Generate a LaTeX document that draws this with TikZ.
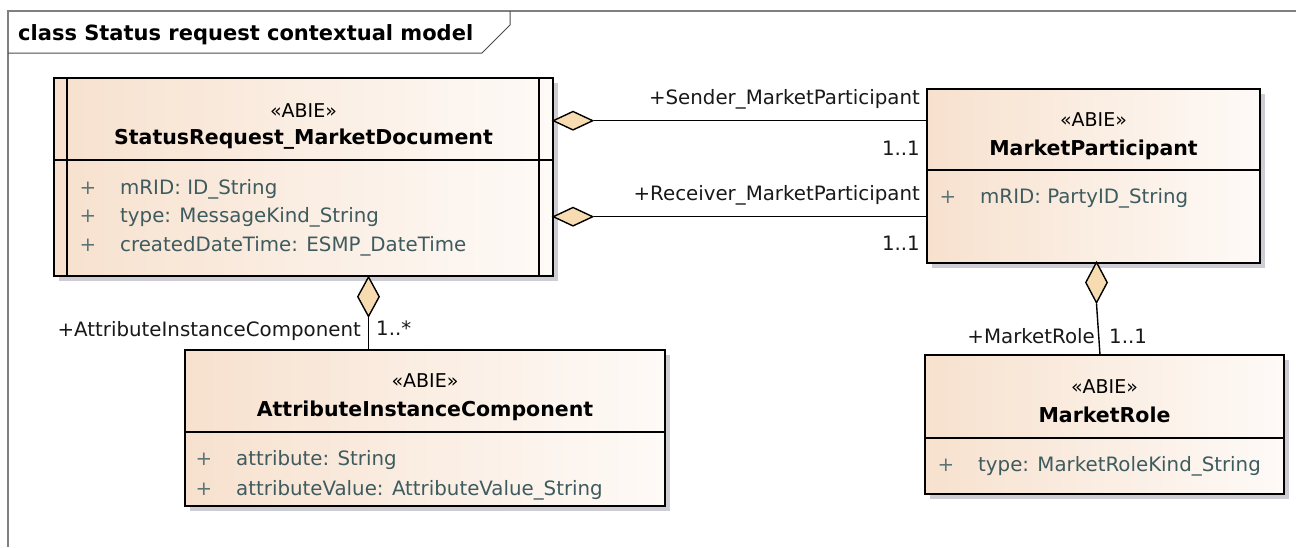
\documentclass[tikz,border=0pt]{standalone}
\usepackage{fontspec}
\setmainfont{DejaVu Sans}
\usetikzlibrary{shapes.geometric,shadows,positioning}

\definecolor{boxleft}{HTML}{F7E1CE}
\definecolor{boxright}{HTML}{FEFAF7}
\definecolor{aggfill}{HTML}{F6DCB0}
\definecolor{attrtext}{HTML}{3E5B5F}
\definecolor{framegray}{HTML}{808080}
\definecolor{shadowgray}{HTML}{CDCDD3}

\begin{document}
\begin{tikzpicture}[x=1pt, y=-1pt,
    classbox/.style={draw, line width=1.6pt, inner sep=0pt, left color=boxleft, right color=boxright,
        drop shadow={shadow xshift=5pt, shadow yshift=-5pt, fill=shadowgray, opacity=1}},
    stereo/.style={inner sep=0pt, text height=14pt, text depth=0pt, font=\fontsize{19}{22}\selectfont},
    classname/.style={inner sep=0pt, text height=15pt, text depth=0pt, font=\fontsize{20.5}{24}\selectfont\bfseries},
    attr/.style={anchor=west, inner sep=0pt, text height=14pt, text depth=0pt, text=attrtext, font=\fontsize{19.8}{23}\selectfont},
    vis/.style={inner sep=0pt, text height=14pt, text depth=0pt, text=attrtext!85, font=\fontsize{19.8}{23}\selectfont},
    rolelabel/.style={inner sep=0pt, text height=14pt, text depth=0pt, text=black!90, font=\fontsize{19.8}{23}\selectfont},
    aggh/.style={diamond, draw, line width=1.4pt, fill=aggfill, inner sep=0pt, minimum width=40pt, minimum height=19pt},
    aggv/.style={diamond, draw, line width=1.4pt, fill=aggfill, inner sep=0pt, minimum width=22pt, minimum height=40pt},
    assoc/.style={line width=1.4pt}]

    % Page and frame
    \fill[white] (0,0) rectangle (1296,547);
    \useasboundingbox (0,0) rectangle (1296,547);
    \draw[framegray, line width=1.6pt] (8,547) -- (8,11) -- (1296,11);
    \draw[black!70, line width=1pt] (8,53) -- (482,53) -- (510,25) -- (510,11);
    \node[anchor=west, inner sep=0pt, text height=15pt, text depth=0pt, font=\fontsize{21}{25}\selectfont\bfseries] (title) at (18,33) {class Status request contextual model};

    % Draw the class boxes
    \node[classbox, minimum width=499pt, minimum height=198pt] (srmd) at (303.5,177) {};
    \node[classbox, minimum width=333pt, minimum height=174pt] (mp) at (1093.5,176) {};
    \node[classbox, minimum width=480pt, minimum height=156pt] (aic) at (425,428) {};
    \node[classbox, minimum width=359pt, minimum height=139pt] (mr) at (1104.5,424.5) {};

    % Compartment lines
    \draw[line width=1.6pt] ([xshift=14pt]srmd.north west) -- ([xshift=14pt]srmd.south west);
    \draw[line width=1.6pt] ([xshift=-15pt]srmd.north east) -- ([xshift=-15pt]srmd.south east);
    \draw[line width=1.4pt] (srmd.west |- 0,160) -- (srmd.east |- 0,160);
    \draw[line width=1.4pt] (mp.west |- 0,170) -- (mp.east |- 0,170);
    \draw[line width=1.4pt] (aic.west |- 0,432) -- (aic.east |- 0,432);
    \draw[line width=1.4pt] (mr.west |- 0,438) -- (mr.east |- 0,438);

    % StatusRequest_MarketDocument
    \node[stereo] (srmdst) at (303.5,110) {«ABIE»};
    \node[classname] (srmdname) at (303.5,137) {StatusRequest\_MarketDocument};
    \node[vis] (srmdv1) at (88,187) {+};
    \node[attr] (srmda1) at (120,187) {mRID: ID\_String};
    \node[vis] (srmdv2) at (88,215) {+};
    \node[attr] (srmda2) at (120,215) {type: MessageKind\_String};
    \node[vis] (srmdv3) at (88,244) {+};
    \node[attr] (srmda3) at (120,244) {createdDateTime: ESMP\_DateTime};

    % MarketParticipant
    \node[stereo] (mpst) at (1093.5,119) {«ABIE»};
    \node[classname] (mpname) at (1093.5,148) {MarketParticipant};
    \node[vis] (mpv1) at (948,196) {+};
    \node[attr] (mpa1) at (980,196) {mRID: PartyID\_String};

    % AttributeInstanceComponent
    \node[stereo] (aicst) at (425,380) {«ABIE»};
    \node[classname] (aicname) at (425,409) {AttributeInstanceComponent};
    \node[vis] (aicv1) at (204,458) {+};
    \node[attr] (aica1) at (236,458) {attribute: String};
    \node[vis] (aicv2) at (204,488) {+};
    \node[attr] (aica2) at (236,488) {attributeValue: AttributeValue\_String};

    % MarketRole
    \node[stereo] (mrst) at (1104.5,386) {«ABIE»};
    \node[classname] (mrname) at (1104.5,415) {MarketRole};
    \node[vis] (mrv1) at (946,464) {+};
    \node[attr] (mra1) at (978,464) {type: MarketRoleKind\_String};

    % Draw the aggregations
    \node[aggh] (dsend) at (573,120.7) {};
    \node[aggh] (drecv) at (573,216.7) {};
    \node[aggv] (daic) at (368.5,296.7) {};
    \node[aggv, minimum height=41pt] (dmr) at (1096.5,282.5) {};
    \coordinate (mrtop) at (1100,355);

    \draw[assoc] (dsend.east) -- (dsend.east -| mp.west);
    \draw[assoc] (drecv.east) -- (drecv.east -| mp.west);
    \draw[assoc] (daic.south) -- (daic.south |- aic.north);
    \draw[assoc] (dmr.south) -- (mrtop);

    % Role names and multiplicities
    \node[rolelabel, anchor=east] (sendrole) at (920,97) {+Sender\_MarketParticipant};
    \node[rolelabel, anchor=east] (sendmult) at (920,148) {1..1};
    \node[rolelabel, anchor=east] (recvrole) at (920,193) {+Receiver\_MarketParticipant};
    \node[rolelabel, anchor=east] (recvmult) at (920,243) {1..1};
    \node[rolelabel, anchor=east] (aicrole) at (361,329) {+AttributeInstanceComponent};
    \node[rolelabel, anchor=west] (aicmult) at (376,328) {1..*};
    \node[rolelabel, anchor=east] (mrrole) at (1095,336) {+MarketRole};
    \node[rolelabel, anchor=west] (mrmult) at (1109,336) {1..1};

\end{tikzpicture}
\end{document}
